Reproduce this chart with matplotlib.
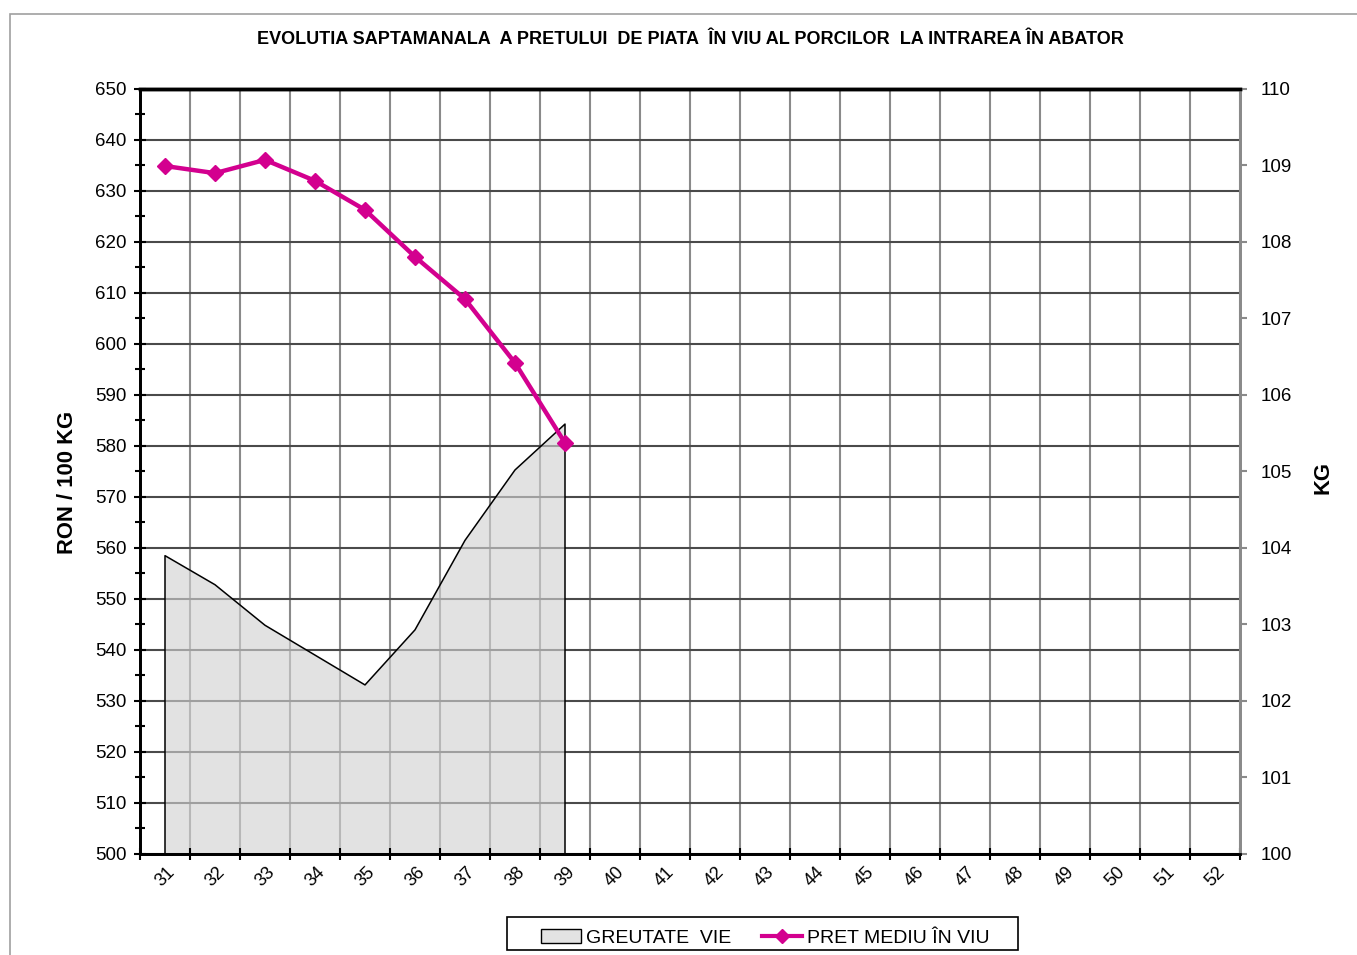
import numpy as np
import matplotlib.pyplot as plt
from matplotlib.patches import Rectangle, Patch
from matplotlib.lines import Line2D

plt.rcParams['font.family'] = ['Liberation Sans', 'DejaVu Sans']

# saptamani (categorii)
weeks = [str(w) for w in range(31, 53)]
# pret mediu in viu (RON / 100 KG), saptamanile 31-39
price = [634.9, 633.5, 636.1, 632.0, 626.3, 617.1, 608.8, 596.3, 580.6]
# greutate vie (KG), saptamanile 31-39
weight = [103.9, 103.52, 102.99, 102.6, 102.21, 102.93, 104.1, 105.02, 105.62]

magenta = '#D3008F'
W, H = 1357, 955

fig = plt.figure(figsize=(W / 100, H / 100), dpi=100)
ax = fig.add_axes([140 / W, 1 - 854 / H, 1100 / W, 765 / H])
ax2 = ax.twinx()

# chenar exterior
fig.patches.append(Rectangle((10 / W, -0.1), 1.2, 1 - 14 / H + 0.1,
                             transform=fig.transFigure, fill=False,
                             edgecolor='#A0A0A0', linewidth=1.2))

x = np.arange(len(weeks))
xw = x[:len(weight)]
xp = x[:len(price)]

ax.set_xlim(-0.5, len(weeks) - 0.5)
ax.set_ylim(500, 650)
ax2.set_ylim(100, 110)

# grila
for b in np.arange(-0.5, len(weeks), 1):
    ax.axvline(b, color='#8A8A8A', linewidth=1.5, zorder=0.5)
for v in np.arange(500, 651, 10):
    ax.axhline(v, color='#4A4A4A', linewidth=1.5, zorder=0.5)

# aria greutate vie (axa dreapta)
ax.fill_between(xw, 100, weight, facecolor='#D2D2D2', alpha=0.63,
                edgecolor='none', transform=ax2.transData, zorder=1)
ax.plot(np.r_[xw[0], xw, xw[-1]], np.r_[100, weight, 100], color='black',
        linewidth=1.1, transform=ax2.transData, zorder=1.5)

# linia pretului
ax.plot(xp, price, color=magenta, linewidth=3.2, marker='D', markersize=8.5,
        zorder=3, clip_on=False)

# axa x
ax.set_xticks(np.arange(-0.5, len(weeks), 1))
ax.set_xticklabels([])
ax.set_xticks(x, minor=True)
ax.set_xticklabels(weeks, minor=True, rotation=45, fontsize=13)
ax.tick_params(axis='x', which='major', direction='inout', length=9, width=1.5)
ax.tick_params(axis='x', which='minor', length=0, pad=7)

# axa stanga
ax.set_yticks(np.arange(500, 651, 10))
ax.set_yticks(np.arange(505, 650, 10), minor=True)
ax.tick_params(axis='y', which='major', direction='inout', length=9, width=1.5,
               labelsize=13.5, pad=5)
ax.tick_params(axis='y', which='minor', direction='inout', length=7, width=1.5)

# axa dreapta
ax2.set_yticks(np.arange(100, 111, 1))
ax2.tick_params(axis='y', direction='out', length=5, width=1.5, color='#8A8A8A',
                labelsize=13.5, pad=10)

for a in (ax, ax2):
    a.spines['left'].set_linewidth(2)
    a.spines['bottom'].set_linewidth(2)
    a.spines['top'].set_linewidth(2.5)
    a.spines['right'].set_linewidth(2)
    a.spines['right'].set_color('#8A8A8A')

ax.set_ylabel('RON / 100 KG', fontsize=15.8, fontweight='bold')
ax.yaxis.set_label_coords((78 - 140) / 1100, (854 - 482) / 765)
ax2.set_ylabel('KG', fontsize=15.8, fontweight='bold', rotation=90)
ax2.yaxis.set_label_coords((1312 - 140) / 1100, (854 - 477) / 765)

fig.text(690 / W, 1 - 40 / H,
         'EVOLUTIA SAPTAMANALA  A PRETULUI  DE PIATA  ÎN VIU AL PORCILOR  LA INTRAREA ÎN ABATOR',
         ha='center', va='center', fontsize=13, fontweight='bold')

# legenda
fig.patches.append(Rectangle((507 / W, 1 - 950 / H), (1018 - 507) / W, 33 / H,
                             transform=fig.transFigure, fill=False,
                             edgecolor='black', linewidth=1.2))
handles = [Patch(facecolor='#E3E3E3', edgecolor='black', linewidth=1),
           Line2D([0], [0], color=magenta, linewidth=3, marker='D', markersize=7.5)]
leg = fig.legend(handles, ['GREUTATE  VIE', 'PRET MEDIU ÎN VIU'], loc='center',
                 bbox_to_anchor=(765 / W, 1 - 938 / H), ncol=2, fontsize=14,
                 frameon=False, columnspacing=1.6, handlelength=2.05,
                 handletextpad=0.25, borderpad=0.2)

fig.savefig('out.png', dpi=100)
